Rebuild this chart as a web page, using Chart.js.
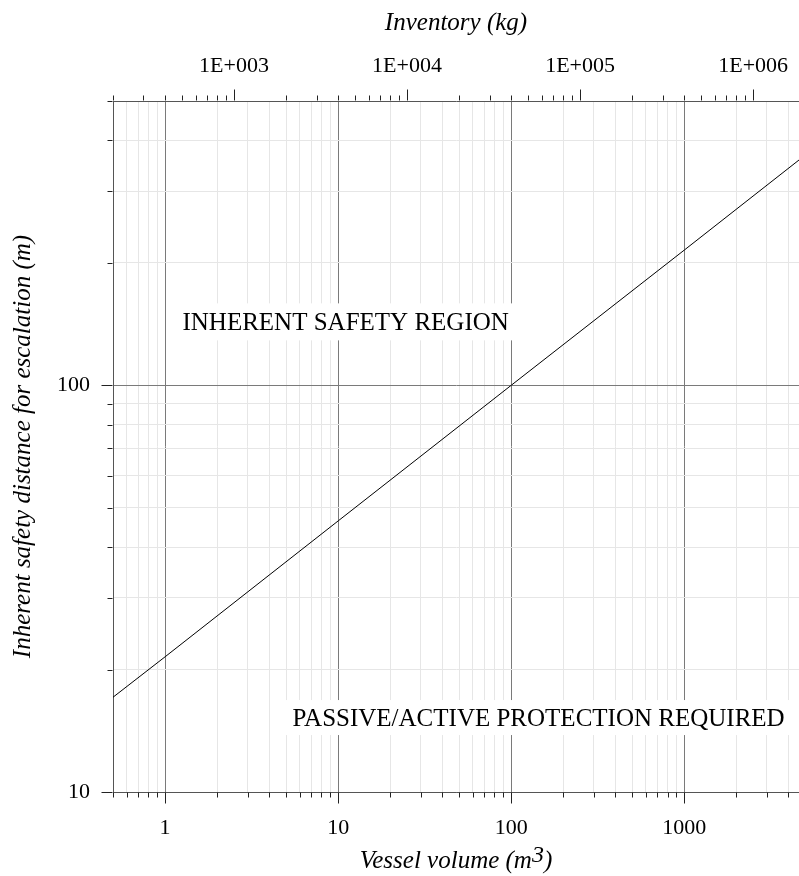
<!DOCTYPE html>
<html>
<head>
<meta charset="utf-8">
<script src="https://cdn.jsdelivr.net/npm/chart.js@4/dist/chart.umd.min.js"></script>
<style>
  html, body { margin: 0; padding: 0; background: #ffffff; }
  canvas { display: block; }
</style>
</head>
<body>
<canvas id="chart" width="799" height="876"></canvas>
<script>
// Vessel volume (m3) against inherent safety distance for escalation (m)
const volume = [0.5, 1, 10, 100, 1000, 4600];
const distance = [17.1, 21.5, 46.4, 100, 215, 358];

// Axis ranges
const volumeRange = [0.5, 4600];
const distanceRange = [10, 500];

// Liquid density behind the inventory axis (kg/m3)
const density = 400;
const inventoryRange = volumeRange.map(v => v * density);

// Region captions
const regionLabels = ['INHERENT SAFETY REGION', 'PASSIVE/ACTIVE PROTECTION REQUIRED'];

const SERIF = '"Liberation Serif", "Times New Roman", serif';

const isDecade = v => Math.abs(Math.log10(v) - Math.round(Math.log10(v))) < 1e-6;

// 1..9 x 10^k values inside [min, max]
function logTicks(min, max) {
  const out = [];
  for (let e = Math.floor(Math.log10(min)); e <= Math.ceil(Math.log10(max)); e++) {
    for (let m = 1; m <= 9; m++) {
      const v = +(m * Math.pow(10, e)).toPrecision(6);
      if (v >= min * 0.999999 && v <= max * 1.000001) out.push(v);
    }
  }
  return out;
}

const useLogTicks = scale => {
  scale.ticks = logTicks(scale.min, scale.max).map(v => ({ value: v }));
};

// Fixed axis band sizes; the plot runs to the right edge of the canvas
const fixSize = (dim, size) => s => {
  s[dim] = size;
  s.paddingLeft = s.paddingRight = s.paddingTop = s.paddingBottom = 0;
};

const gridColor = ctx => (ctx.tick && isDecade(ctx.tick.value)) ? '#7a7a7a' : '#e6e6e6';

// Short outward tick marks, longer at each decade
const tickMarks = {
  id: 'tickMarks',
  afterDraw(chart) {
    const ctx = chart.ctx;
    ctx.save();
    ctx.strokeStyle = '#222';
    ctx.lineWidth = 1;
    ['x', 'x2', 'y'].forEach(id => {
      const s = chart.scales[id];
      s.ticks.forEach(t => {
        const len = isDecade(t.value) ? 11 : 5;
        const p = Math.round(s.getPixelForValue(t.value)) + 0.5;
        ctx.beginPath();
        if (id === 'x') {
          const y0 = Math.round(s.top) + 0.5;
          ctx.moveTo(p, y0); ctx.lineTo(p, y0 + len);
        } else if (id === 'x2') {
          const y0 = Math.round(s.bottom) - 0.5;
          ctx.moveTo(p, y0); ctx.lineTo(p, y0 - len);
        } else {
          const x0 = Math.round(s.right) - 0.5;
          ctx.moveTo(x0, p); ctx.lineTo(x0 - len, p);
        }
        ctx.stroke();
      });
    });
    ctx.restore();
  }
};

// Captions on white panels inside the plot
const regionText = {
  id: 'regionText',
  beforeDatasetsDraw(chart, args, opts) {
    const { ctx, chartArea } = chart;
    const xs = chart.scales.x, ys = chart.scales.y;
    ctx.save();
    ctx.font = opts.size + 'px ' + SERIF;
    opts.items.forEach(it => {
      const w = ctx.measureText(it.text).width;
      const px = xs.getPixelForValue(it.x);
      const py = ys.getPixelForValue(it.y);
      const left = it.align === 'right' ? px - w : px;
      const bx0 = Math.max(chartArea.left + 1, left - it.padL);
      const bx1 = Math.min(chartArea.right, left + w + it.padR);
      ctx.fillStyle = '#ffffff';
      ctx.fillRect(bx0, py - it.padT, bx1 - bx0, it.padT + it.padB);
      ctx.fillStyle = '#000000';
      ctx.textAlign = 'left';
      ctx.textBaseline = 'alphabetic';
      ctx.fillText(it.text, left, py + opts.size * 0.33);
    });
    ctx.restore();
  }
};

// Bottom axis title with a raised exponent
const volumeTitle = {
  id: 'volumeTitle',
  afterDraw(chart, args, opts) {
    const { ctx, chartArea } = chart;
    ctx.save();
    const main = 'italic ' + opts.size + 'px ' + SERIF;
    const sup = 'italic ' + opts.supSize + 'px ' + SERIF;
    const parts = [['Vessel volume (m', main, 0], ['3', sup, -opts.raise], [')', main, 0]];
    let total = 0;
    parts.forEach(p => { ctx.font = p[1]; total += ctx.measureText(p[0]).width; });
    let x = (chartArea.left + chartArea.right) / 2 - total / 2;
    ctx.fillStyle = '#000';
    ctx.textBaseline = 'alphabetic';
    ctx.textAlign = 'left';
    parts.forEach(p => {
      ctx.font = p[1];
      ctx.fillText(p[0], x, opts.baseline + p[2]);
      x += ctx.measureText(p[0]).width;
    });
    ctx.restore();
  }
};

const tickFont = { family: SERIF, size: 22 };
const titleFont = { family: SERIF, size: 25, style: 'italic' };

new Chart(document.getElementById('chart'), {
  type: 'scatter',
  data: {
    datasets: [{
      data: volume.map((v, i) => ({ x: v, y: distance[i] })),
      showLine: true,
      borderColor: '#000000',
      borderWidth: 1,
      pointRadius: 0,
      tension: 0
    }]
  },
  options: {
    responsive: false,
    animation: false,
    devicePixelRatio: 1,
    layout: { padding: 0, autoPadding: false },
    plugins: {
      legend: { display: false },
      tooltip: { enabled: false },
      regionText: {
        size: 25,
        items: [
          { text: regionLabels[0], x: 1.26, y: 143.6, align: 'left', padL: 12, padR: 6, padT: 18, padB: 19 },
          { text: regionLabels[1], x: 3800, y: 15.2, align: 'right', padL: 8, padR: 14, padT: 18, padB: 17 }
        ]
      },
      volumeTitle: { size: 25, supSize: 24, raise: 6, baseline: 868 }
    },
    scales: {
      x: {
        type: 'logarithmic',
        position: 'bottom',
        min: volumeRange[0],
        max: volumeRange[1],
        afterBuildTicks: useLogTicks,
        afterFit: fixSize('height', 84),
        grid: { color: gridColor, drawTicks: false, lineWidth: 1 },
        border: { display: true, color: '#555555', width: 1 },
        ticks: {
          autoSkip: false, maxRotation: 0, padding: 23,
          color: '#000', font: tickFont,
          callback: v => isDecade(v) ? String(Math.round(v)) : ''
        }
      },
      x2: {
        type: 'logarithmic',
        position: 'top',
        min: inventoryRange[0],
        max: inventoryRange[1],
        afterBuildTicks: useLogTicks,
        afterFit: fixSize('height', 101),
        grid: { drawOnChartArea: false, drawTicks: false },
        border: { display: true, color: '#555555', width: 1 },
        ticks: {
          autoSkip: false, maxRotation: 0, padding: 22,
          color: '#000', font: tickFont,
          callback: v => isDecade(v) ? '1E+' + String(Math.round(Math.log10(v))).padStart(3, '0') : ''
        },
        title: { display: true, text: 'Inventory (kg)', color: '#000', font: titleFont, padding: { top: 8, bottom: 0 } }
      },
      y: {
        type: 'logarithmic',
        position: 'left',
        min: distanceRange[0],
        max: distanceRange[1],
        afterBuildTicks: useLogTicks,
        afterFit: fixSize('width', 113),
        grid: { color: gridColor, drawTicks: false, lineWidth: 1 },
        border: { display: true, color: '#555555', width: 1 },
        ticks: {
          autoSkip: false, padding: 23,
          color: '#000', font: tickFont,
          callback: v => isDecade(v) ? String(Math.round(v)) : ''
        },
        title: { display: true, text: 'Inherent safety distance for escalation (m)', color: '#000', font: titleFont, padding: { top: 8, bottom: 0 } }
      }
    }
  },
  plugins: [regionText, tickMarks, volumeTitle]
});
</script>
</body>
</html>
